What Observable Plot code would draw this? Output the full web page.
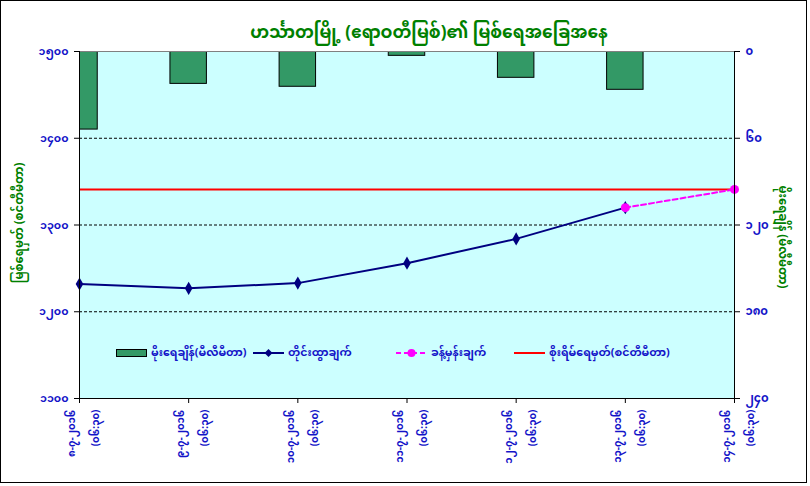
<!DOCTYPE html>
<html><head><meta charset="utf-8">
<script src="https://cdn.jsdelivr.net/npm/d3@7"></script>
<script src="https://cdn.jsdelivr.net/npm/@observablehq/plot@0.6"></script>
<style>
html,body{margin:0;padding:0;background:#fff;}
#wrap{position:relative;width:810px;height:486px;overflow:hidden;}
#border{position:absolute;left:0;top:0;width:805px;height:481px;border:1px solid #000;pointer-events:none;}
#legend{position:absolute;left:0;top:344px;height:18px;width:810px;font-family:"Noto Sans Myanmar","Padauk","Myanmar Text",sans-serif;font-size:11px;font-weight:bold;color:#1414c8;}
.li{position:absolute;top:0;display:flex;align-items:center;height:18px;white-space:nowrap;}
svg{font-family:"Noto Sans Myanmar","Padauk","Myanmar Text",sans-serif;}
</style></head>
<body><div id="wrap"><div id="chart"></div><div id="legend"></div><div id="border"></div></div>
<script>
const dates = ["၈-၇-၂၀၁၆","၉-၇-၂၀၁၆","၁၀-၇-၂၀၁၆","၁၁-၇-၂၀၁၆","၁၂-၇-၂၀၁၆","၁၃-၇-၂၀၁၆","၁၄-၇-၂၀၁၆"];
const times = ["(၀၆:၃၀)","(၀၆:၃၀)","(၀၆:၃၀)","(၀၆:၃၀)","(၀၆:၃၀)","(၀၆:၃၀)","(၀၆:၃၀)"];
const rainfall = [54, 22.4, 24.4, 3, 18.2, 26.5, null];          // mm
const observed = [1232, 1227, 1233, 1256, 1284, 1320, null];     // cm
const forecast = [null, null, null, null, null, 1320, 1341];      // cm
const dangerLevel = 1341;                                          // cm
const levelTicks = [1100, 1200, 1300, 1400, 1500];
const levelTickLabels = ["၁၁၀၀","၁၂၀၀","၁၃၀၀","၁၄၀၀","၁၅၀၀"];
const rainTicks = [240, 180, 120, 60, 0];
const rainTickLabels = ["၂၄၀","၁၈၀","၁၂၀","၆၀","၀"];
const title = "ဟင်္သာတမြို့ (ဧရာဝတီမြစ်)၏ မြစ်ရေအခြေအနေ";
const leftTitle = "မြစ်ရေမှတ် (စင်တီမီတာ)";
const rightTitle = "မိုးရေချိန် (မီလီမီတာ)";
const legendLabels = ["မိုးရေချိန်(မီလီမီတာ)","တိုင်းထွာချက်","ခန့်မှန်းချက်","စိုးရိမ်ရေမှတ်(စင်တီမီတာ)"];

const C = {bar:"#339966", obs:"#000080", fc:"#ff00ff", danger:"#ff0000", tick:"#1414c8", green:"#008000", bg:"#ccffff"};
const LMAX = 1500, LMIN = 1100, RMAX = 240;
const rainToLevel = r => LMAX - r * (LMAX - LMIN) / RMAX;
const half = 0.167;

const idx = dates.map((d, i) => i);
const bars = idx.filter(i => rainfall[i] != null).map(i => ({x1: i - half, x2: i + half, y1: LMAX, y2: rainToLevel(rainfall[i])}));
const obsData = idx.filter(i => observed[i] != null).map(i => ({x: i, y: observed[i]}));
const fcData = idx.filter(i => forecast[i] != null).map(i => ({x: i, y: forecast[i]}));

const chart = Plot.plot({
  width: 810, height: 486,
  marginLeft: 79, marginRight: 76, marginTop: 51, marginBottom: 88,
  x: {domain: [0, dates.length - 1], axis: null},
  y: {domain: [LMIN, LMAX], axis: null},
  marks: [
    Plot.frame({fill: C.bg, stroke: null}),
    Plot.ruleY([1200, 1300, 1400], {stroke: "#000", strokeDasharray: "3,2", strokeWidth: 1}),
    Plot.rect(bars, {x1: "x1", x2: "x2", y1: "y1", y2: "y2", fill: C.bar, stroke: "#000", strokeWidth: 1, clip: true}),
    Plot.ruleY([dangerLevel], {stroke: C.danger, strokeWidth: 2}),
    Plot.line(obsData, {x: "x", y: "y", stroke: C.obs, strokeWidth: 2}),
    Plot.dot(obsData, {x: "x", y: "y", symbol: "diamond", r: 4, fill: C.obs, stroke: null}),
    Plot.line(fcData, {x: "x", y: "y", stroke: C.fc, strokeWidth: 2, strokeDasharray: "5,3"}),
    Plot.dot(fcData, {x: "x", y: "y", r: 4.5, fill: C.fc, stroke: null}),
    Plot.ruleY([LMAX], {stroke: "#808080", strokeWidth: 1}),
    Plot.ruleY([LMIN], {stroke: "#000", strokeWidth: 1}),
    Plot.ruleX([0, dates.length - 1], {stroke: "#000", strokeWidth: 1}),
    Plot.axisY({anchor: "left", ticks: levelTicks, tickFormat: (d) => levelTickLabels[levelTicks.indexOf(d)], label: null, tickSize: 5, tickPadding: 6, stroke: "#000", fill: C.tick, fontSize: 11, fontWeight: "bold"}),
    Plot.axisY({anchor: "right", ticks: rainTicks.map(rainToLevel), tickFormat: (d) => rainTickLabels[rainTicks.map(rainToLevel).indexOf(d)], label: null, tickSize: 5, tickPadding: 6, stroke: "#000", fill: C.tick, fontSize: 11.5, fontWeight: "bold"}),
    Plot.axisX({ticks: idx, tickFormat: (i) => dates[i] + "\n" + times[i], tickRotate: -90, label: null, tickSize: 5, tickPadding: 6, lineAnchor: "middle", lineHeight: 2.4, stroke: "#000", fill: C.tick, fontSize: 10, fontWeight: "bold"}),
    Plot.text([title], {frameAnchor: "top", dx: 22, dy: -26, fill: C.green, fontSize: 17, fontWeight: "bold"}),
    Plot.text([leftTitle], {frameAnchor: "left", textAnchor: "middle", dx: -60, dy: -2, rotate: -90, fill: C.green, fontSize: 11.5, fontWeight: "bold"}),
    Plot.text([rightTitle], {frameAnchor: "right", textAnchor: "middle", dx: 48, dy: 12, rotate: 90, fill: C.green, fontSize: 11.5, fontWeight: "bold"})
  ]
});
document.getElementById("chart").appendChild(chart);

// legend
const leg = document.getElementById("legend");
const sw = [
  `<svg width="31" height="10"><rect x="0.5" y="1.5" width="30" height="7" fill="${C.bar}" stroke="#000"/></svg>`,
  `<svg width="31" height="10"><line x1="0" y1="5" x2="31" y2="5" stroke="${C.obs}" stroke-width="2"/><path d="M15.5 1 L19.5 5 L15.5 9 L11.5 5Z" fill="${C.obs}"/></svg>`,
  `<svg width="31" height="10"><line x1="0" y1="5" x2="31" y2="5" stroke="${C.fc}" stroke-width="2" stroke-dasharray="5,3"/><circle cx="15.5" cy="5" r="4" fill="${C.fc}"/></svg>`,
  `<svg width="31" height="10"><line x1="0" y1="5" x2="31" y2="5" stroke="${C.danger}" stroke-width="2"/></svg>`
];
const lx = [116, 253, 396, 514];
legendLabels.forEach((t, i) => {
  const d = document.createElement("div");
  d.className = "li"; d.style.left = lx[i] + "px";
  d.innerHTML = sw[i] + `<span style="margin-left:4px">${t}</span>`;
  leg.appendChild(d);
});
</script></body></html>
